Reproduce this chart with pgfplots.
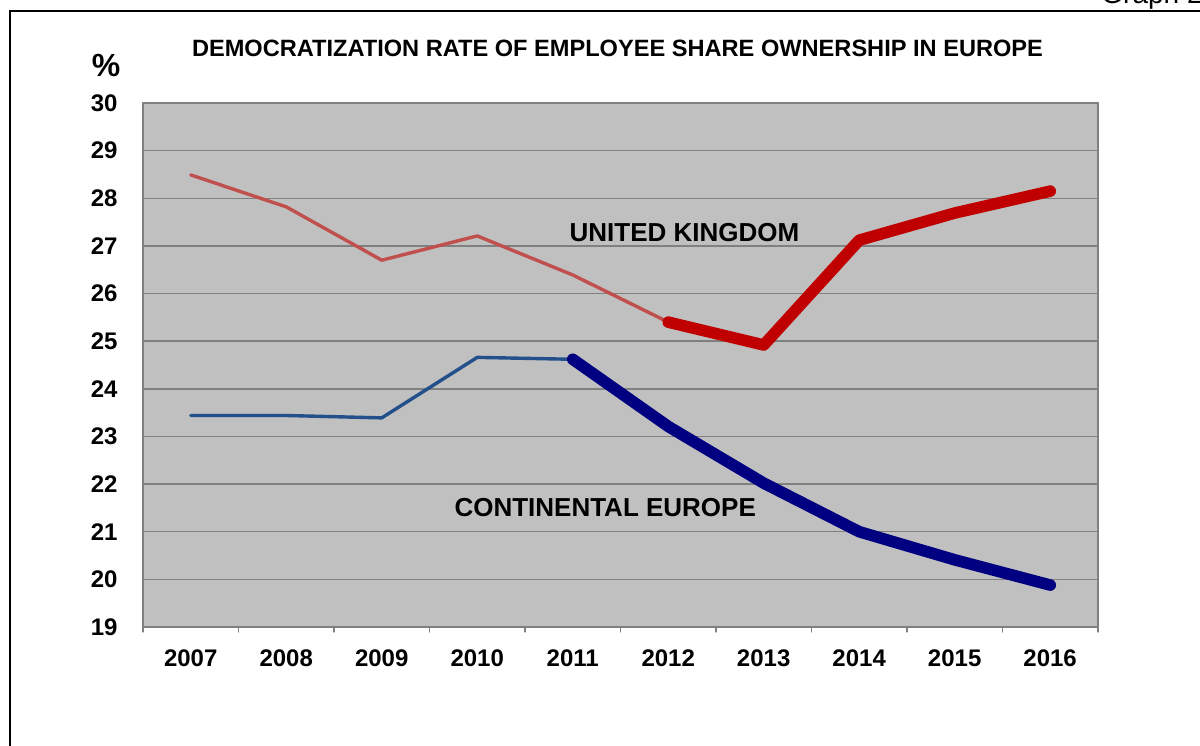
\documentclass[border=0pt]{standalone}
\usepackage{pgfplots}
\pgfplotsset{compat=1.18}
\usepackage{fontspec}
\setmainfont{Liberation Sans}

\definecolor{plotbg}{HTML}{C0C0C0}
\definecolor{gridgray}{HTML}{808080}
\definecolor{ukthin}{HTML}{C0504D}
\definecolor{ukthick}{HTML}{C00000}
\definecolor{cethin}{HTML}{23508A}
\definecolor{cethick}{HTML}{000080}

\begin{document}
\begin{tikzpicture}
\begin{axis}[
    at={(0,0)}, anchor=south west,
    scale only axis, width=477.5pt, height=262pt,
    xmin=2006.5, xmax=2016.5,
    ymin=19, ymax=30,
    ytick={19,20,...,30},
    xtick={2007,...,2016},
    xticklabels={2007,2008,2009,2010,2011,2012,2013,2014,2015,2016},
    minor xtick={2006.5,2007.5,...,2016.5},
    xtick pos=bottom, ytick pos=left,
    major tick length=0pt,
    minor tick length=2.5pt,
    tick align=outside,
    minor tick style={gridgray, line width=0.6pt},
    ymajorgrids,
    major grid style={gridgray, line width=0.75pt},
    axis line style={gridgray, line width=0.75pt},
    axis background/.style={fill=plotbg},
    /pgf/number format/assume math mode=true,
    ticklabel style={font=\bfseries\fontsize{12}{14}\selectfont},
    yticklabel style={anchor=east, inner sep=0pt, xshift=-12.5pt},
    xticklabel style={anchor=north, inner sep=0pt, yshift=-11pt},
    line cap=round, line join=round,
    clip=false,
  ]
  % United Kingdom
  \addplot[ukthin, line width=1.7pt] coordinates {
    (2007,28.49) (2008,27.82) (2009,26.70) (2010,27.21) (2011,26.39) (2012,25.40)};
  \addplot[ukthick, line width=5.8pt] coordinates {
    (2012,25.40) (2013,24.92) (2014,27.12) (2015,27.69) (2016,28.15)};
  % Continental Europe
  \addplot[cethin, line width=1.7pt] coordinates {
    (2007,23.44) (2008,23.44) (2009,23.39) (2010,24.66) (2011,24.62)};
  \addplot[cethick, line width=5.8pt] coordinates {
    (2011,24.62) (2012,23.21) (2013,22.02) (2014,21.00) (2015,20.41) (2016,19.88)};

  \node[font=\bfseries\fontsize{13}{15}\selectfont] at (axis cs:2012.17,27.29) {UNITED KINGDOM};
  \node[font=\bfseries\fontsize{13}{15}\selectfont] at (axis cs:2011.34,21.50) {CONTINENTAL EUROPE};
\end{axis}

% frame and free texts
\draw[black, line width=0.6pt] (-66.5pt,-120pt) rectangle (560pt,308pt);
\node[font=\bfseries\fontsize{11.8}{14}\selectfont, inner sep=0pt] at (237.25pt,289.5pt)
  {DEMOCRATIZATION RATE OF EMPLOYEE SHARE OWNERSHIP IN EUROPE};
\node[font=\bfseries\fontsize{16}{18}\selectfont, inner sep=0pt] at (-18.5pt,281pt) {\%};
\node[font=\fontsize{14}{16}\selectfont, inner sep=0pt, anchor=base east] at (530pt,311.5pt) {Graph 2};

\pgfresetboundingbox
\path[use as bounding box] (-71.5pt,-59pt) rectangle (528.5pt,313.5pt);
\end{tikzpicture}
\end{document}
